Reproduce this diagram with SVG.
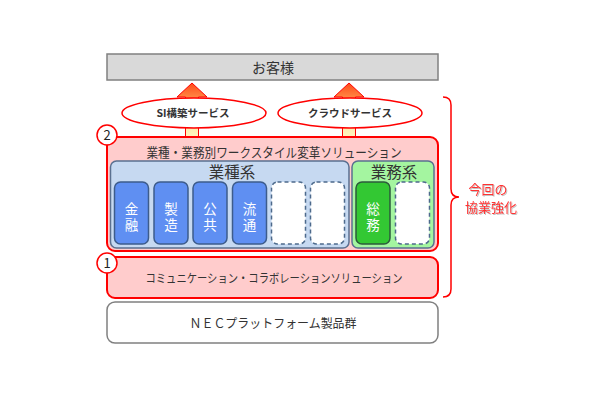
<svg xmlns="http://www.w3.org/2000/svg" width="610" height="400" viewBox="0 0 610 400">
<defs>
<linearGradient id="ag" x1="0" y1="0" x2="0" y2="1">
<stop offset="0" stop-color="#ff4a1a"/>
<stop offset="0.35" stop-color="#ff9a50"/>
<stop offset="0.75" stop-color="#ffe8a8"/>
<stop offset="1" stop-color="#fff6c0"/>
</linearGradient>
<filter id="sh" x="-20%" y="-20%" width="140%" height="140%">
<feDropShadow dx="1" dy="1" stdDeviation="0.5" flood-color="#999" flood-opacity="0.6"/>
</filter>
</defs>
<style>
text{font-family:"Noto Sans CJK JP","Noto Sans",sans-serif;fill:#333;text-anchor:middle}
.red{fill:#ffcccc;stroke:#ff0000;stroke-width:2}
.item{fill:#5f8ff2;stroke:#3d5c8c;stroke-width:1.5}
.dash{fill:#fff;stroke:#4d6a8c;stroke-width:1.5;stroke-dasharray:4 3}
.it{fill:#fff;font-size:13.5px;writing-mode:vertical-rl;text-anchor:start;letter-spacing:3px}
.num{fill:#fff;stroke:#ff0000;stroke-width:1.5}
.arr{fill:url(#ag);stroke:#ff0000;stroke-width:1}
.ell{fill:#fff;stroke:#ff0000;stroke-width:1.5}
</style>
<rect width="610" height="400" fill="#fff"/>

<g id="customer">
<rect x="107" y="54" width="331" height="26" fill="#d9d9d9" stroke="#808080" stroke-width="1.5"/>
<text x="273" y="73" font-size="14">お客様</text>
</g>

<g id="connectors">
<polygon class="arr" points="192,83 207,97 198.5,97 198.5,137 185.5,137 185.5,97 177,97"/>
<polygon class="arr" points="349,83 364,97 355.5,97 355.5,137 342.5,137 342.5,97 334,97"/>
</g>

<g id="si">
<ellipse class="ell" cx="194" cy="113" rx="72" ry="15"/>
<text x="193" y="117" font-size="10.5" font-weight="bold">SI構築サービス</text>
</g>
<g id="cloud">
<ellipse class="ell" cx="350" cy="113" rx="72" ry="15"/>
<text x="350" y="117" font-size="10.5" font-weight="bold">クラウドサービス</text>
</g>

<g id="solution2">
<rect class="red" x="107" y="137" width="331" height="114" rx="8"/>
<text x="274" y="157" font-size="13" textLength="255" lengthAdjust="spacingAndGlyphs">業種・業務別ワークスタイル変革ソリューション</text>
</g>

<g id="gyoshu">
<rect x="110.5" y="161" width="238.5" height="87" rx="6" fill="#c6d9f1" stroke="#5a7090" stroke-width="1.5"/>
<text x="232" y="178" font-size="15.5">業種系</text>
</g>
<g id="gyomu">
<rect x="352" y="161" width="82" height="87" rx="6" fill="#a4f5a0" stroke="#5a7090" stroke-width="1.5"/>
<text x="394" y="178" font-size="15.5">業務系</text>
</g>

<g id="kinyu"><rect class="item" x="114.5" y="182" width="34" height="62" rx="6"/><text class="it" x="131.5" y="202">金融</text></g>
<g id="seizo"><rect class="item" x="154" y="182" width="34" height="62" rx="6"/><text class="it" x="171" y="202">製造</text></g>
<g id="kokyo"><rect class="item" x="193" y="182" width="34" height="62" rx="6"/><text class="it" x="210" y="202">公共</text></g>
<g id="ryutsu"><rect class="item" x="232.5" y="182" width="34" height="62" rx="6"/><text class="it" x="249.5" y="202">流通</text></g>
<g id="blank1"><rect class="dash" x="271.5" y="182" width="34" height="62" rx="6"/></g>
<g id="blank2"><rect class="dash" x="310.5" y="182" width="34" height="62" rx="6"/></g>
<g id="somu"><rect x="356" y="182" width="34" height="62" rx="6" fill="#33c833" stroke="#2c5a3c" stroke-width="1.5"/><text class="it" x="373" y="202">総務</text></g>
<g id="blank3"><rect class="dash" x="395.5" y="182" width="34" height="62" rx="6"/></g>

<g id="num2">
<circle class="num" cx="107" cy="135" r="10"/>
<text x="107" y="140" font-size="13" style="fill:#222">2</text>
</g>

<g id="solution1">
<rect class="red" x="107" y="257" width="331" height="41" rx="8"/>
<text x="274" y="283" font-size="12" textLength="257" lengthAdjust="spacingAndGlyphs">コミュニケーション・コラボレーションソリューション</text>
</g>
<g id="num1">
<circle class="num" cx="107" cy="263" r="10"/>
<text x="107" y="268" font-size="13" style="fill:#222">1</text>
</g>

<g id="platform">
<rect x="107" y="302" width="331" height="41" rx="8" fill="#fff" stroke="#808080" stroke-width="1.5"/>
<text x="273" y="328" font-size="12.5" textLength="167" lengthAdjust="spacingAndGlyphs">ＮＥＣプラットフォーム製品群</text>
</g>

<g id="brace">
<path d="M443,97 Q451,97 451,105 L451,189 Q451,197 459,197 Q451,197 451,205 L451,289 Q451,297 443,297" fill="none" stroke="#ff0000" stroke-width="1.5"/>
<g filter="url(#sh)">
<text x="488" y="194" font-size="13" style="fill:#ff3030">今回の</text>
<text x="491" y="212" font-size="13" style="fill:#ff3030">協業強化</text>
</g>
</g>
</svg>
